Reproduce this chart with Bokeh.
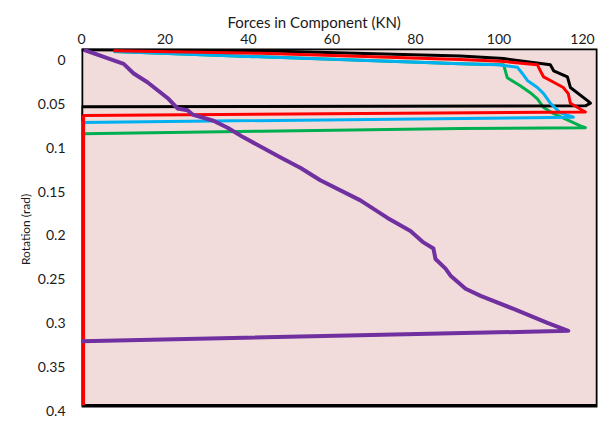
from bokeh.plotting import figure
from bokeh.models import Range1d, FixedTicker, BoxAnnotation, Title
from bokeh.embed import file_html
from bokeh.resources import INLINE

# ---- data ----
x_ticks = [0, 20, 40, 60, 80, 100, 120]
x_tick_labels = ["0", "20", "40", "60", "80", "100", "120"]
y_ticks = [0, 0.05, 0.1, 0.15, 0.2, 0.25, 0.3, 0.35, 0.4]
y_tick_labels = ["0", "0.05", "0.1", "0.15", "0.2", "0.25", "0.3", "0.35", "0.4"]

black_force = [0, 42.9, 90.8, 101.1, 112.3, 113.1, 116.4, 117.1, 121.2, 121.9, 120.7, 0, 0]
black_rot = [-0.012, -0.011, -0.005, -0.002, 0.005, 0.012, 0.019, 0.031, 0.046, 0.049, 0.052, 0.053, 0.394]

red_force = [7.7, 42.9, 90.8, 100.4, 109.2, 109.9, 110.7, 113.1, 115.4, 116.6, 117.1, 120.7, 0.5, 0.5]
red_rot = [-0.011, -0.008, -0.001, 0.001, 0.005, 0.012, 0.019, 0.025, 0.031, 0.038, 0.049, 0.059, 0.063, 0.394]

cyan_force = [7.7, 42.9, 90.8, 99.6, 104.4, 105.6, 106.8, 109.2, 110.7, 112.3, 114.7, 117.8, -0.2, -0.2]
cyan_rot = [-0.010, -0.004, 0.004, 0.005, 0.008, 0.015, 0.023, 0.031, 0.038, 0.049, 0.060, 0.065, 0.071, 0.394]

green_force = [7.7, 42.9, 90.8, 101.1, 102.0, 105.1, 107.5, 109.2, 110.7, 113.1, 119.5, 120.7, 90.8, 42.9, 0.3, 0.3]
green_rot = [-0.010, -0.004, 0.004, 0.005, 0.020, 0.029, 0.037, 0.044, 0.054, 0.061, 0.075, 0.077, 0.078, 0.081, 0.084, 0.394]

purple_force = [0.55, 10.1, 12.5, 15.8, 20.6, 23.0, 25.4, 26.6, 31.6, 35.0, 38.8, 47.7, 52.5, 57.2, 66.8,
                73.3, 78.8, 81.9, 84.3, 84.8, 87.2, 88.4, 92.0, 95.6, 103.5, 111.6, 116.6, 0]
purple_rot = [-0.012, 0.004, 0.015, 0.025, 0.043, 0.055, 0.057, 0.062, 0.069, 0.077, 0.088, 0.111, 0.123, 0.137,
              0.160, 0.180, 0.195, 0.208, 0.215, 0.227, 0.238, 0.246, 0.261, 0.269, 0.284, 0.300, 0.309, 0.321]

FONT = "Lato"
TXT = "#1a1a1a"

X_MAX = 123.6
Y_TOP = -0.0135
Y_BOX_BOTTOM = 0.3945

p = figure(width=600, height=420, output_backend="svg", toolbar_location=None,
           x_axis_location="above",
           x_range=Range1d(0, X_MAX), y_range=Range1d(0.4, Y_TOP),
           min_border_left=81, min_border_right=3, min_border_top=48, min_border_bottom=10)
p.background_fill_color = "white"
p.border_fill_color = "white"
p.outline_line_color = None
p.grid.visible = False

box = BoxAnnotation(left=0, right=X_MAX, top=Y_TOP, bottom=Y_BOX_BOTTOM,
                    fill_color="#F2DCDB", fill_alpha=1.0,
                    line_color="black", line_width=3.5, line_alpha=1.0, level="underlay")
p.add_layout(box)

for ax in (p.xaxis[0], p.yaxis[0]):
    ax.axis_line_color = None
    ax.major_tick_out = 0
    ax.major_tick_in = 0
    ax.minor_tick_out = 0
    ax.minor_tick_in = 0
    ax.major_label_text_font = FONT
    ax.major_label_text_font_size = "14px"
    ax.major_label_text_color = TXT
    ax.axis_label_text_font = FONT
    ax.axis_label_text_font_style = "normal"
    ax.axis_label_text_color = TXT

xa = p.xaxis[0]
xa.ticker = FixedTicker(ticks=x_ticks)
xa.major_label_overrides = dict(zip(x_ticks, x_tick_labels))
xa.major_label_standoff = 5

ya = p.yaxis[0]
ya.ticker = FixedTicker(ticks=y_ticks)
ya.major_label_overrides = dict(zip(y_ticks, y_tick_labels))
ya.major_label_standoff = 16
ya.axis_label = "Rotation (rad)"
ya.axis_label_text_font_size = "12px"
ya.axis_label_standoff = 2

title = Title(text="Forces in Component (KN)", align="left", offset=146, standoff=0,
              text_font=FONT, text_font_size="15px", text_font_style="normal", text_color=TXT)
p.add_layout(title, "above")

kw = dict(line_width=3, line_join="round")
p.line(green_force, green_rot, line_color="#00B050", **kw)
p.line(black_force, black_rot, line_color="black", **kw)
p.line(cyan_force, cyan_rot, line_color="#00B0F0", **kw)
p.line(red_force, red_rot, line_color="#FF0000", **kw)
p.line(purple_force, purple_rot, line_color="#7030A0", line_width=4, line_join="round")

open("out.html", "w").write(file_html(p, INLINE))
